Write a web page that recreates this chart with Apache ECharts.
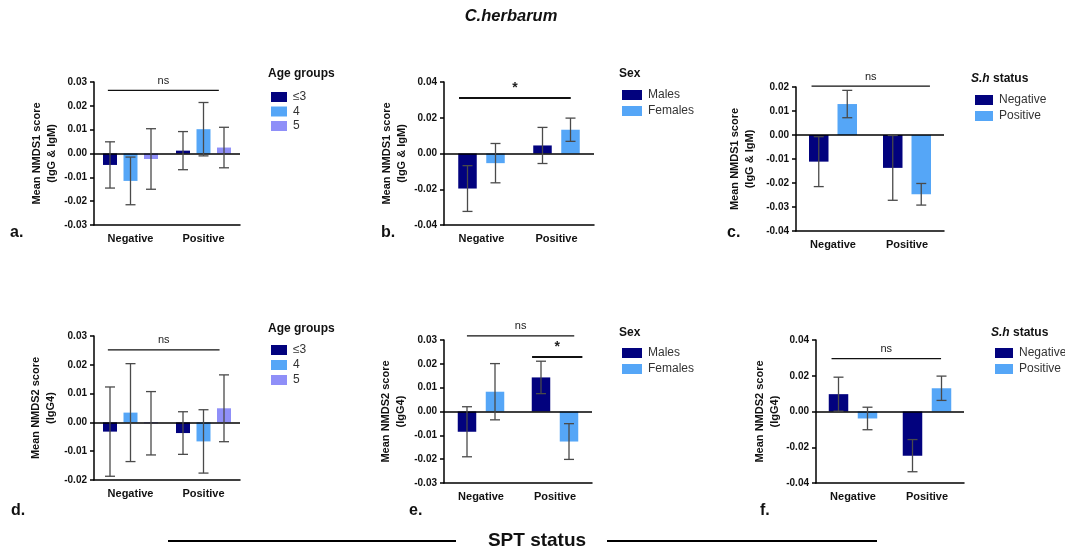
<!DOCTYPE html>
<html lang="en">
<head>
    <meta charset="utf-8">
    <title>C.herbarum NMDS scores</title>
    <style>
        * {
            margin: 0;
            padding: 0;
        }

        #chart {
            width: 1065px;
            height: 552px;
            background: #fff;
        }
    </style>
</head>
<body>
<div id="chart"></div>
<script src="https://cdn.jsdelivr.net/npm/echarts@6/dist/echarts.min.js"></script>
<script>
    // x categories (SPT status)
    const categories = ['Negative', 'Positive'];

    // group names
    const ageGroups = ['≤3', '4', '5'];
    const sexGroups = ['Males', 'Females'];
    const shGroups = ['Negative', 'Positive'];

    // means per group: [Negative, Positive]  and SD per group
    const aMeans = [[-0.0048, 0.0012], [-0.0115, 0.0102], [-0.0023, 0.0025]];
    const aSD = [[0.0097, 0.0080], [0.0100, 0.0112], [0.0127, 0.0085]];

    const bMeans = [[-0.0196, 0.0045], [-0.0054, 0.0133]];
    const bSD = [[0.0128, 0.0101], [0.0110, 0.0065]];

    const cMeans = [[-0.0111, -0.0137], [0.0129, -0.0247]];
    const cSD = [[0.0104, 0.0135], [0.0057, 0.0045]];

    const dMeans = [[-0.0032, -0.0037], [0.0034, -0.0066], [-0.0003, 0.0049]];
    const dSD = [[0.0155, 0.0074], [0.0170, 0.0110], [0.0110, 0.0116]];

    const eMeans = [[-0.0085, 0.0143], [0.0083, -0.0126]];
    const eSD = [[0.0105, 0.0068], [0.0118, 0.0075]];

    const fMeans = [[0.0097, -0.0247], [-0.0039, 0.0130]];
    const fSD = [[0.0095, 0.0090], [0.0063, 0.0068]];

    // significance brackets: [from, to (in category units), y value, text]
    const aSig = [[-0.31, 1.21, 0.0265, 'ns']];
    const bSig = [[-0.30, 1.19, 0.0310, '*']];
    const cSig = [[-0.29, 1.31, 0.0204, 'ns']];
    const dSig = [[-0.31, 1.22, 0.0252, 'ns']];
    const eSig = [[-0.19, 1.26, 0.0317, 'ns'], [0.69, 1.37, 0.0229, '*']];
    const fSig = [[-0.29, 1.19, 0.0296, 'ns']];

    const ageColors = ['#02027e', '#55a6f7', '#8f8ff8'];
    const twoColors = ['#02027e', '#55a6f7'];

    const FONT = 'Liberation Sans, Arial, sans-serif';

    const chart = echarts.init(document.getElementById('chart'), null, {renderer: 'canvas'});

    const grids = [], xAxes = [], yAxes = [], series = [], legends = [], titles = [];

    function addPanel(p) {
        const gi = grids.length;
        grids.push({left: p.left, top: p.top, width: p.width, height: p.height});
        xAxes.push({
            type: 'category', gridIndex: gi, data: categories,
            axisLine: {onZero: false, lineStyle: {color: '#000', width: 1.5}},
            axisTick: {alignWithLabel: true, length: 4, lineStyle: {color: '#000', width: 1.5}},
            axisLabel: {color: '#111', fontWeight: 'bold', fontSize: 11, fontFamily: FONT, margin: 8}
        });
        yAxes.push({
            type: 'value', gridIndex: gi, min: p.min, max: p.max, interval: p.interval,
            name: p.yName, nameLocation: 'middle', nameRotate: 90, nameGap: p.nameGap,
            nameTextStyle: {color: '#111', fontWeight: 'bold', fontSize: 11, fontFamily: FONT, lineHeight: 15},
            axisLine: {show: true, lineStyle: {color: '#000', width: 1.5}},
            axisTick: {show: true, length: 4, lineStyle: {color: '#000', width: 1.5}},
            splitLine: {show: false},
            axisLabel: {
                color: '#111', fontWeight: 'bold', fontSize: 10, fontFamily: FONT, margin: 7,
                formatter: v => (Math.abs(v) < 1e-9 ? 0 : v).toFixed(2)
            }
        });

        const n = p.groups.length;
        const step = p.barW + p.gap;
        p.groups.forEach((g, k) => {
            const bar = {
                type: 'bar', name: g, xAxisIndex: gi, yAxisIndex: gi,
                data: p.means[k], barWidth: p.barW, barGap: (p.gap / p.barW * 100).toFixed(1) + '%',
                itemStyle: {color: p.colors[k]}, z: 2
            };
            if (k === 0) {
                bar.markLine = {
                    silent: true, symbol: 'none', animation: false,
                    label: {show: false},
                    lineStyle: {color: '#000', width: 1.5, type: 'solid'},
                    data: [{yAxis: 0}]
                };
            }
            series.push(bar);

            const off = (k - (n - 1) / 2) * step;
            const cap = 10;
            series.push({
                type: 'custom', name: 'err-' + gi + '-' + k, xAxisIndex: gi, yAxisIndex: gi, z: 5,
                data: p.means[k].map((m, i) => [i, m, p.sd[k][i]]),
                renderItem: function (params, api) {
                    const c = api.value(0), m = api.value(1), s = api.value(2);
                    const hi = api.coord([c, m + s]);
                    const lo = api.coord([c, m - s]);
                    const x = hi[0] + off;
                    const st = {stroke: '#4a4a4a', lineWidth: 1.3};
                    return {
                        type: 'group', children: [
                            {type: 'line', shape: {x1: x, y1: hi[1], x2: x, y2: lo[1]}, style: st},
                            {type: 'line', shape: {x1: x - cap / 2, y1: hi[1], x2: x + cap / 2, y2: hi[1]}, style: st},
                            {type: 'line', shape: {x1: x - cap / 2, y1: lo[1], x2: x + cap / 2, y2: lo[1]}, style: st}
                        ]
                    };
                }
            });
        });

        // significance brackets
        const sig = p.sig;
        series.push({
            type: 'custom', name: 'sig-' + gi, xAxisIndex: gi, yAxisIndex: gi, z: 6, clip: false,
            data: sig.map(s => [s[0], s[1], s[2]]),
            renderItem: function (params, api) {
                const s = sig[params.dataIndex];
                const base = api.coord([0, s[2]]);
                const band = api.size([1, 0])[0];
                const x1 = base[0] + s[0] * band, x2 = base[0] + s[1] * band;
                const star = s[3] === '*';
                return {
                    type: 'group', children: [
                        {type: 'line', shape: {x1: x1, y1: base[1], x2: x2, y2: base[1]},
                            style: {stroke: '#111', lineWidth: star ? 2 : 1.3}},
                        {type: 'text', x: (x1 + x2) / 2, y: base[1] - (star ? 3 : 4),
                            style: {text: s[3], fill: '#222', textAlign: 'center', textVerticalAlign: 'bottom',
                                font: (star ? 'bold 14px ' : '11px ') + FONT}}
                    ]
                };
            }
        });

        legends.push({
            data: p.groups, orient: 'vertical', left: p.legLeft, top: p.legTop, padding: 0,
            itemWidth: p.legW, itemHeight: 10, itemGap: p.legGap, selectedMode: false,
            textStyle: {color: '#333', fontSize: 12, fontFamily: FONT, padding: [0, 0, 0, 1]},
            icon: 'rect'
        });
        titles.push({
            text: p.legTitle, left: p.legTitleLeft, top: p.legTitleTop, padding: 0,
            textStyle: {
                fontSize: 12, fontWeight: 'bold', color: '#111', fontFamily: FONT,
                rich: {i: {fontSize: 12, fontWeight: 'bold', fontStyle: 'italic', color: '#111', fontFamily: FONT}}
            }
        });
        titles.push({
            text: p.letter, left: p.letterLeft, top: p.letterTop, padding: 0,
            textStyle: {fontSize: 16, fontWeight: 'bold', color: '#111', fontFamily: FONT}
        });
    }

    const nmds1 = 'Mean NMDS1 score\n(IgG & IgM)';
    const nmds2 = 'Mean NMDS2 score\n(IgG4)';
    const shTitle = '{i|S.h} status';

    addPanel({
        left: 94, top: 82, width: 146, height: 143, min: -0.03, max: 0.03, interval: 0.01,
        yName: nmds1, nameGap: 35, groups: ageGroups, colors: ageColors, means: aMeans, sd: aSD,
        barW: 14, gap: 6.5, sig: aSig,
        legTitle: 'Age groups', legTitleLeft: 268, legTitleTop: 68,
        legLeft: 271, legTop: 91, legW: 16, legGap: 2.5,
        letter: 'a.', letterLeft: 10, letterTop: 225
    });
    addPanel({
        left: 444, top: 82, width: 150, height: 143, min: -0.04, max: 0.04, interval: 0.02,
        yName: nmds1, nameGap: 35, groups: sexGroups, colors: twoColors, means: bMeans, sd: bSD,
        barW: 18.5, gap: 9.5, sig: bSig,
        legTitle: 'Sex', legTitleLeft: 619, legTitleTop: 68,
        legLeft: 622, legTop: 89, legW: 20, legGap: 4,
        letter: 'b.', letterLeft: 381, letterTop: 225
    });
    addPanel({
        left: 796, top: 87, width: 148, height: 144, min: -0.04, max: 0.02, interval: 0.01,
        yName: nmds1, nameGap: 39, groups: shGroups, colors: twoColors, means: cMeans, sd: cSD,
        barW: 19.5, gap: 9, sig: cSig,
        legTitle: shTitle, legTitleLeft: 971, legTitleTop: 73,
        legLeft: 975, legTop: 94, legW: 18, legGap: 4,
        letter: 'c.', letterLeft: 727, letterTop: 225
    });
    addPanel({
        left: 94, top: 336, width: 146, height: 144, min: -0.02, max: 0.03, interval: 0.01,
        yName: nmds2, nameGap: 36, groups: ageGroups, colors: ageColors, means: dMeans, sd: dSD,
        barW: 14, gap: 6.5, sig: dSig,
        legTitle: 'Age groups', legTitleLeft: 268, legTitleTop: 323,
        legLeft: 271, legTop: 344, legW: 16, legGap: 3,
        letter: 'd.', letterLeft: 11, letterTop: 503
    });
    addPanel({
        left: 444, top: 340, width: 148, height: 143, min: -0.03, max: 0.03, interval: 0.01,
        yName: nmds2, nameGap: 36, groups: sexGroups, colors: twoColors, means: eMeans, sd: eSD,
        barW: 18.5, gap: 9.5, sig: eSig,
        legTitle: 'Sex', legTitleLeft: 619, legTitleTop: 327,
        legLeft: 622, legTop: 347, legW: 20, legGap: 4,
        letter: 'e.', letterLeft: 409, letterTop: 503
    });
    addPanel({
        left: 816, top: 340, width: 148, height: 143, min: -0.04, max: 0.04, interval: 0.02,
        yName: nmds2, nameGap: 34, groups: shGroups, colors: twoColors, means: fMeans, sd: fSD,
        barW: 19.5, gap: 9.5, sig: fSig,
        legTitle: shTitle, legTitleLeft: 991, legTitleTop: 327,
        legLeft: 995, legTop: 347, legW: 18, legGap: 4,
        letter: 'f.', letterLeft: 760, letterTop: 503
    });

    titles.push({
        text: 'C.herbarum', left: 511, top: 8, textAlign: 'center', padding: 0,
        textStyle: {fontSize: 16.5, fontWeight: 'bold', fontStyle: 'italic', color: '#111', fontFamily: FONT}
    });

    const option = {
        animation: false,
        textStyle: {fontFamily: FONT},
        title: titles,
        legend: legends,
        grid: grids,
        xAxis: xAxes,
        yAxis: yAxes,
        series: series,
        graphic: [
            {type: 'line', shape: {x1: 168, y1: 541, x2: 456, y2: 541}, style: {stroke: '#000', lineWidth: 2}},
            {type: 'line', shape: {x1: 607, y1: 541, x2: 877, y2: 541}, style: {stroke: '#000', lineWidth: 2}},
            {type: 'text', x: 537, y: 541,
                style: {text: 'SPT status', fill: '#111', textAlign: 'center', textVerticalAlign: 'middle',
                    font: 'bold 19px ' + FONT}}
        ]
    };
    chart.setOption(option);
</script>
</body>
</html>
